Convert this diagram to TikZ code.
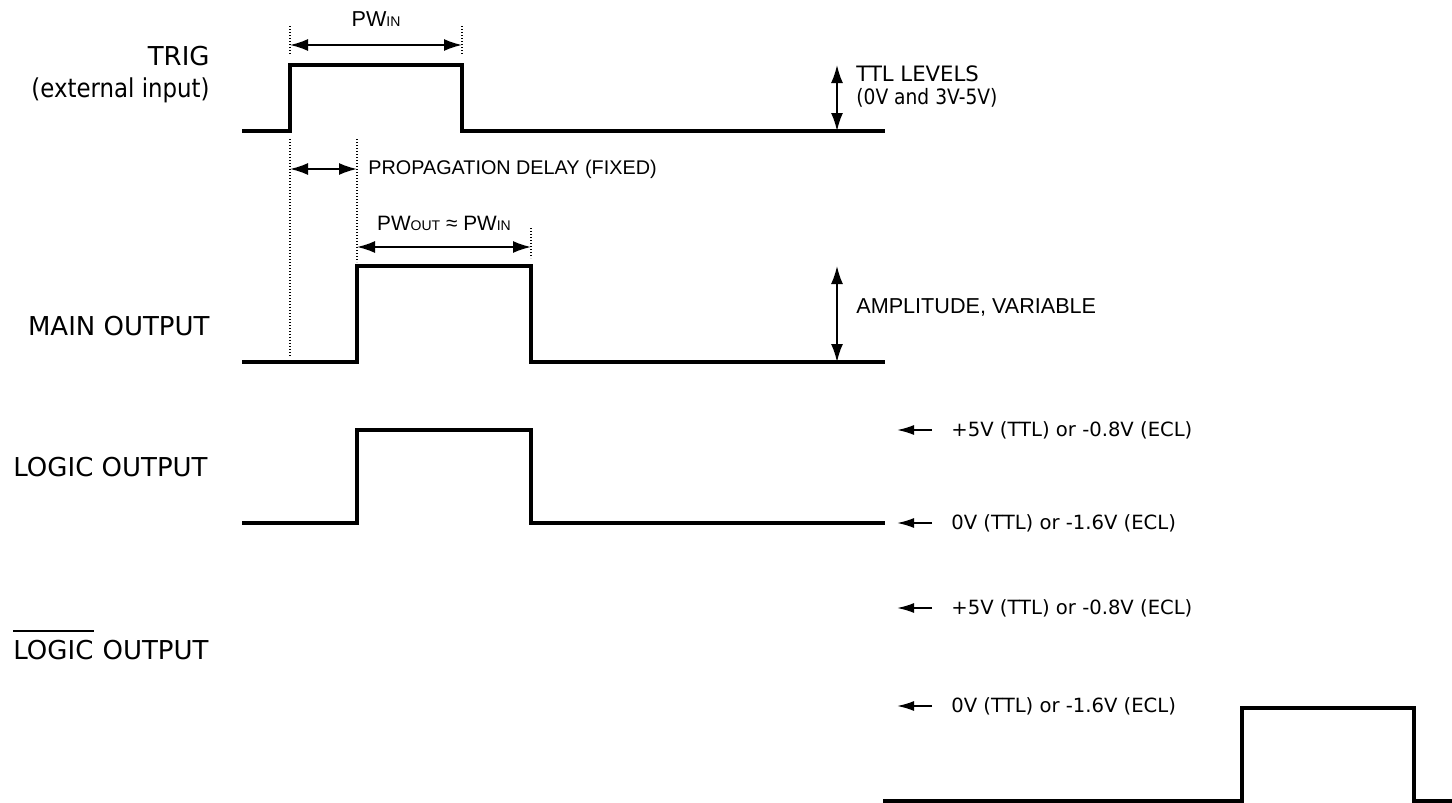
\documentclass[tikz,border=0pt]{standalone}
\usepackage{fontspec}
\setmainfont{DejaVu Sans}
\newfontfamily\arialfont{Liberation Sans}
\newfontfamily\narrowfont[FakeStretch=0.88]{DejaVu Sans}
\usetikzlibrary{arrows.meta,positioning,calc}
\newcommand\pwidx[1]{{\fontsize{7}{7}\selectfont #1}}
\begin{document}
\begin{tikzpicture}[x=0.5pt,y=-0.5pt,
    wave/.style={line width=1.7pt},
    dim/.style={{Latex[length=9pt,width=6pt]}-{Latex[length=9pt,width=6pt]},line width=0.9pt},
    lvl/.style={-{Latex[length=8.5pt,width=5pt]},line width=0.9pt},
    guide/.style={dash pattern=on 0.7pt off 0.8pt,line width=0.8pt},
    sig/.style={font=\fontsize{13}{16}\selectfont,align=right,inner sep=0pt},
    note/.style={font=\fontsize{9.8}{11.5}\selectfont,anchor=west,inner sep=0pt,align=left},
    anote/.style={note,font=\arialfont\fontsize{9.9}{12}\selectfont}
  ]
  \useasboundingbox (0,0) rectangle (1452,803);
  % signal names
  \node[sig,anchor=east] (trig) at (210,75) {TRIG\\{\narrowfont(external input)}};
  \node[sig,anchor=east] (main) at (210,326) {MAIN OUTPUT};
  \node[sig,anchor=west] (logic) at (13,467) {LOGIC OUTPUT};
  \node[sig,anchor=west] (nlogic) at (13,650) {LOGIC};
  \node[sig,anchor=base west] (nout) at ([xshift=4.2pt]nlogic.base east) {OUTPUT};
  \draw[line width=0.9pt] ([yshift=4.5pt]nlogic.north west) -- ([yshift=4.5pt]nlogic.north east);
  % waveforms
  \draw[wave] (242,131) -| (290,65) -| (462,131) -- (885,131);
  \draw[wave] (242,362) -| (357,266) -| (531,362) -- (885,362);
  \draw[wave] (242,523) -| (357,430) -| (531,523) -- (885,523);
  \draw[wave] (883,801) -| (1242,708) -| (1414,801) -- (1452,801);
  % timing guides
  \coordinate (inL) at (290,45);  \coordinate (inR) at (462,45);
  \coordinate (dlL) at (290,169); \coordinate (dlR) at (357,169);
  \coordinate (outL) at (357,247); \coordinate (outR) at (531,247);
  \draw[guide] (290,26) -- (290,54) (462,26) -- (462,54);
  \draw[guide] (290,139) -- (290,356) (357,139) -- (357,262);
  \draw[guide] (531,228) -- (531,258);
  \draw[dim] (inL) -- (inR);
  \draw[dim] (dlL) -- (dlR);
  \draw[dim] (outL) -- (outR);
  \node[anote,font=\arialfont\fontsize{10.8}{12}\selectfont,anchor=south] (pwin) at ([yshift=9pt]$(inL)!0.5!(inR)$) {PW\pwidx{IN}};
  \node[anote,anchor=west] (delay) at ([xshift=5.5pt]dlR) {PROPAGATION DELAY (FIXED)};
  \node[anote,font=\arialfont\fontsize{10.4}{12}\selectfont,anchor=south] (pwout) at ([yshift=8pt]$(outL)!0.5!(outR)$) {PW\pwidx{OUT} ≈ PW\pwidx{IN}};
  % amplitude marks
  \coordinate (ttlT) at (837,65);  \coordinate (ttlB) at (837,131);
  \coordinate (ampT) at (837,266); \coordinate (ampB) at (837,362);
  \draw[dim] (ttlT) -- (ttlB);
  \draw[dim] (ampT) -- (ampB);
  \node[note,font=\fontsize{10.6}{11.5}\selectfont] (ttl) at (856,87) {TTL LEVELS\\{\narrowfont(0V and 3V-5V)}};
  \node[anote,font=\arialfont\fontsize{10.8}{12}\selectfont] (amp) at (856,307) {AMPLITUDE, VARIABLE};
  % logic levels
  \foreach \y/\txt [count=\i] in {430/{+5V (TTL) or -0.8V (ECL)},523/{0V (TTL) or -1.6V (ECL)},
      608/{+5V (TTL) or -0.8V (ECL)},706/{0V (TTL) or -1.6V (ECL)}} {
    \coordinate (lv\i) at (932,\y);
    \node[note] (lvtxt\i) at (951,\y) {\txt};
    \draw[lvl] (lv\i) -- ++(-35,0);
  }
\end{tikzpicture}
\end{document}
